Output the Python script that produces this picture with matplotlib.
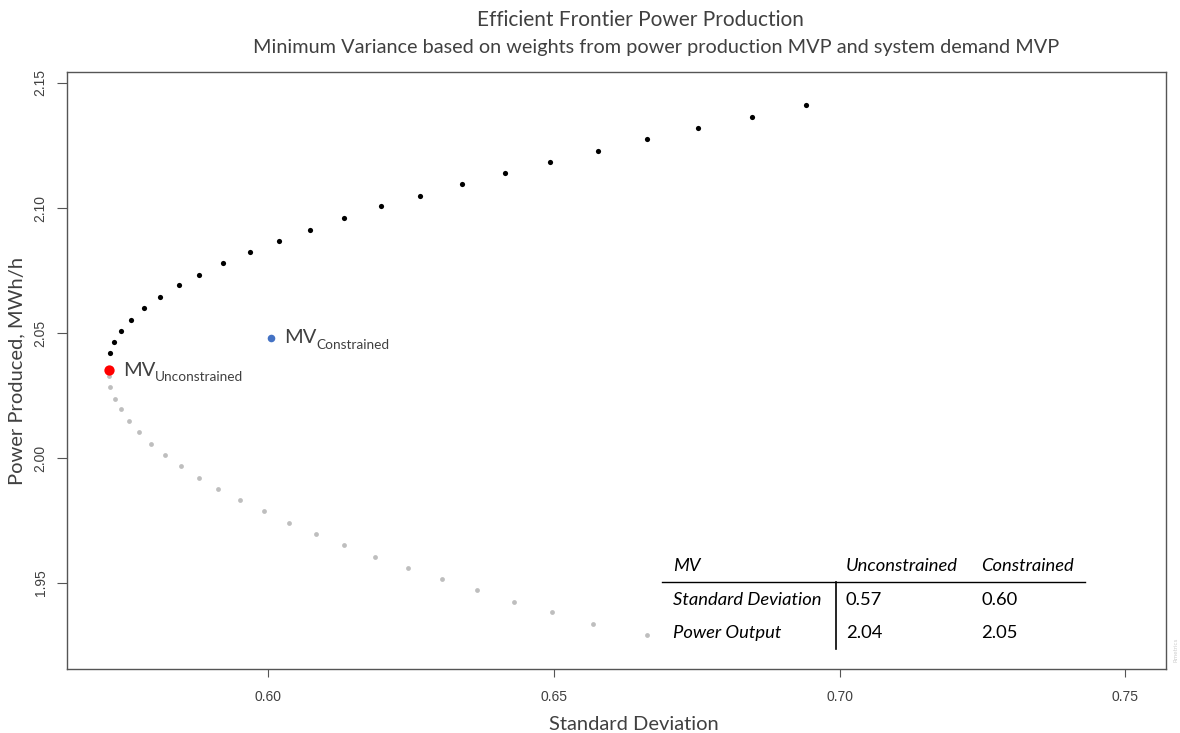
import matplotlib
matplotlib.use("Agg")
import matplotlib.pyplot as plt
from matplotlib.lines import Line2D

# upper (efficient) part of the frontier
upper_sd = [0.5725, 0.5731, 0.5743, 0.5761, 0.5783, 0.5812, 0.5844, 0.5880,
            0.5922, 0.5969, 0.6019, 0.6074, 0.6134, 0.6199, 0.6267, 0.6340,
            0.6415, 0.6493, 0.6577, 0.6663, 0.6752, 0.6847, 0.6941]
upper_pw = [2.0419, 2.0463, 2.0509, 2.0552, 2.0599, 2.0645, 2.0691, 2.0732,
            2.0780, 2.0825, 2.0868, 2.0913, 2.0960, 2.1007, 2.1048, 2.1095,
            2.1141, 2.1184, 2.1229, 2.1276, 2.1321, 2.1364, 2.1411]

# lower (inefficient) part
lower_sd = [0.5722, 0.5722, 0.5725, 0.5733, 0.5743, 0.5758, 0.5775, 0.5796,
            0.5821, 0.5848, 0.5879, 0.5913, 0.5951, 0.5993, 0.6038, 0.6084,
            0.6134, 0.6188, 0.6246, 0.6304, 0.6366, 0.6431, 0.6498, 0.6569,
            0.6664]
lower_pw = [2.0352, 2.0328, 2.0283, 2.0237, 2.0195, 2.0149, 2.0103, 2.0056,
            2.0013, 1.9968, 1.9921, 1.9875, 1.9832, 1.9787, 1.9740, 1.9697,
            1.9652, 1.9605, 1.9560, 1.9517, 1.9471, 1.9425, 1.9383, 1.9337,
            1.9291]

mv_unc = (0.5722, 2.0352)
mv_con = (0.6005, 2.0481)

xticks = [0.60, 0.65, 0.70, 0.75]
yticks = [1.95, 2.00, 2.05, 2.10, 2.15]

table_cols = ["MV", "Unconstrained", "Constrained"]
table_rows = ["Standard Deviation", "Power Output"]
table_unc = ["0.57", "2.04"]
table_con = ["0.60", "2.05"]

txt = "#404040"
office = ["Lato", "DejaVu Sans"]
narrow = ["Liberation Sans Narrow", "Liberation Sans", "DejaVu Sans"]

fig = plt.figure(figsize=(11.8, 7.33), dpi=100)
ax = fig.add_axes([67 / 1180, 1 - 669 / 733, (1166 - 67) / 1180, (669 - 72) / 733])

ax.scatter(lower_sd, lower_pw, s=12, color="#BEBEBE", linewidths=0, zorder=2)
ax.scatter(upper_sd, upper_pw, s=14, color="black", linewidths=0, zorder=3)
ax.scatter([mv_unc[0]], [mv_unc[1]], s=55, color="#FF0000", linewidths=0, zorder=4)
ax.scatter([mv_con[0]], [mv_con[1]], s=30, color="#4472C4", linewidths=0, zorder=4)

ax.set_xlim(0.5649, 0.7571)
ax.set_ylim(1.9156, 2.1544)
ax.set_xticks(xticks)
ax.set_xticklabels(["%.2f" % v for v in xticks], family=narrow, fontsize=10, color=txt)
ax.set_yticks(yticks)
ax.set_yticklabels(["%.2f" % v for v in yticks], family=narrow, fontsize=10,
                   color=txt, rotation=90, va="center")
ax.tick_params(axis="x", length=6, pad=9, color="#555555")
ax.tick_params(axis="y", length=7, pad=7, color="#555555")
for s in ax.spines.values():
    s.set_color("#555555")
    s.set_linewidth(1.0)

ax.set_xlabel("Standard Deviation", family=office, fontsize=14.5, color=txt, labelpad=9)
ax.xaxis.label.set_x(0.516)
ax.set_ylabel("Power Produced, MWh/h", family=office, fontsize=14.5, color=txt, labelpad=6)

fig.text(640 / 1180, 1 - 20 / 733, "Efficient Frontier Power Production", family=office,
         fontsize=15, color=txt, ha="center", va="center")
fig.text(656 / 1180, 1 - 48 / 733,
         "Minimum Variance based on weights from power production MVP and system demand MVP",
         family=office, fontsize=14.3, color=txt, ha="center", va="center")

# MV labels with subscript
for pt, sub in [(mv_unc, "Unconstrained"), (mv_con, "Constrained")]:
    t = ax.annotate("MV", xy=pt, xytext=(10, 0), textcoords="offset points",
                    family=office, fontsize=14.5, color=txt, ha="left", va="center")
    ax.annotate(sub, xy=(1, 0.1), xycoords=t, family=office, fontsize=9.8,
                color=txt, ha="left", va="center")

# summary table
def fx(px):
    return px / 1180

def fy(py):
    return 1 - py / 733

col_x = [673, 846, 981]
for x, lab in zip(col_x, table_cols):
    fig.text(fx(x), fy(566), lab, family=office, style="italic", fontsize=13.2,
             color="black", va="center")
row_y = [600, 633]
for y, lab, a, b in zip(row_y, table_rows, table_unc, table_con):
    fig.text(fx(col_x[0]), fy(y), lab, family=office, style="italic", fontsize=13.2,
             color="black", va="center")
    fig.text(fx(col_x[1]), fy(y), a, family=office, fontsize=13.2, color="black", va="center")
    fig.text(fx(col_x[2]), fy(y), b, family=office, fontsize=13.2, color="black", va="center")
fig.add_artist(Line2D([fx(662), fx(1085)], [fy(582), fy(582)], color="black", lw=1.0))
fig.add_artist(Line2D([fx(836), fx(836)], [fy(582), fy(649)], color="black", lw=1.2))

fig.text(fx(1176), fy(650), "Rmetrics", fontsize=4, color="#CCCCCC", rotation=90,
         ha="center", va="center")

fig.savefig("out.png", dpi=100)
